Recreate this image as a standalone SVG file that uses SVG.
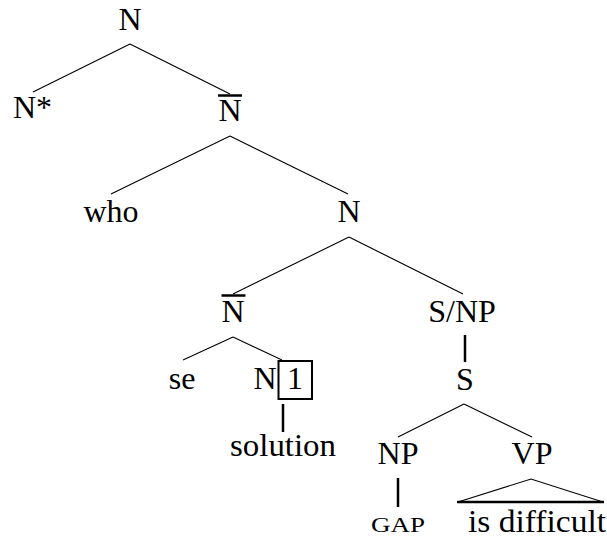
<svg xmlns="http://www.w3.org/2000/svg" width="607" height="541" viewBox="0 0 607 541">
<defs>
<line id="ob" x1="0" y1="0" x2="24" y2="0" stroke="#000" stroke-width="2.5"/>
</defs>
<rect width="607" height="541" fill="#fff"/>
<g id="connectors" stroke="#000" fill="none">
<g stroke-width="1.1">
<line x1="130" y1="44" x2="33" y2="92"/>
<line x1="130" y1="44" x2="230" y2="94"/>
<line x1="230" y1="136" x2="111" y2="194"/>
<line x1="230" y1="136" x2="348" y2="194"/>
<line x1="349" y1="237" x2="233" y2="294"/>
<line x1="349" y1="237" x2="463" y2="294"/>
<line x1="233" y1="337" x2="183" y2="360"/>
<line x1="233" y1="337" x2="282" y2="360"/>
<line x1="464" y1="404" x2="398" y2="437"/>
<line x1="464" y1="404" x2="532" y2="437"/>
<polyline points="458,502 531,479 603,502"/>
</g>
<g stroke-width="2.5">
<line x1="283" y1="404" x2="283" y2="432"/>
<line x1="465" y1="335" x2="465" y2="362"/>
<line x1="398" y1="478" x2="398" y2="507"/>
<line x1="457" y1="502" x2="604" y2="502"/>
</g>
</g>
<g text-anchor="middle" fill="#000">
<g id="n-root"><text x="130" y="30" style="font-family:'Liberation Serif';font-size:32px">N</text></g>
<g id="n-foot"><text x="13" y="118" text-anchor="start" style="font-family:'Liberation Serif';font-size:32px">N*</text></g>
<g id="nbar1"><use href="#ob" x="218" y="95.5"/><text x="230" y="121" style="font-family:'Liberation Serif';font-size:32px">N</text></g>
<g id="who"><text x="111" y="222" style="font-family:'Liberation Serif';font-size:32px">who</text></g>
<g id="n-mid"><text x="349" y="222" style="font-family:'Liberation Serif';font-size:32px">N</text></g>
<g id="nbar2"><use href="#ob" x="221.5" y="295.5"/><text x="233" y="322" style="font-family:'Liberation Serif';font-size:32px">N</text></g>
<g id="snp"><text x="462" y="322" style="font-family:'Liberation Serif';font-size:32px">S/NP</text></g>
<g id="se"><text x="182" y="389" style="font-family:'Liberation Serif';font-size:32px">se</text></g>
<g id="n1"><text x="265" y="389" style="font-family:'Liberation Serif';font-size:32px">N</text><rect x="278.5" y="361" width="33.5" height="38" fill="none" stroke="#000" stroke-width="2"/><text x="295" y="389" style="font-family:'Liberation Serif';font-size:32px">1</text></g>
<g id="solution"><text x="283" y="456" textLength="106" lengthAdjust="spacingAndGlyphs" style="font-family:'Liberation Serif';font-size:32px">solution</text></g>
<g id="s"><text x="465" y="390" style="font-family:'Liberation Serif';font-size:32px">S</text></g>
<g id="np"><text x="398" y="464" style="font-family:'Liberation Serif';font-size:32px">NP</text></g>
<g id="vp"><text x="532" y="464" style="font-family:'Liberation Serif';font-size:32px">VP</text></g>
<g id="gap"><text x="398" y="532" textLength="54" lengthAdjust="spacingAndGlyphs" style="font-family:'Liberation Serif';font-size:20px">GAP</text></g>
<g id="isdifficult"><text x="537" y="532" textLength="138" lengthAdjust="spacingAndGlyphs" style="font-family:'Liberation Serif';font-size:32px">is difficult</text></g>
</g>
</svg>
